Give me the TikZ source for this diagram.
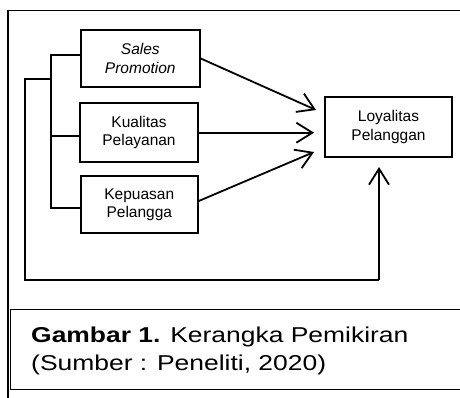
\documentclass[tikz,border=0pt]{standalone}
\usepackage{fontspec}
\setmainfont{Liberation Sans}
\usetikzlibrary{arrows.meta}
\begin{document}
\begin{tikzpicture}[x=1pt,y=-1pt,
  varbox/.style={draw, line width=1.9pt, inner sep=0pt, align=center,
    font=\fontsize{15.5}{18.3}\selectfont},
  link/.style={line width=1.8pt},
  arr/.style={line width=1.8pt, -{Straight Barb[length=16pt,width=20pt,line width=1.8pt]}},
  frameline/.style={line width=1.8pt},
  capline/.style={line width=1pt},
  captext/.style={anchor=base west, inner sep=0pt, font=\fontsize{21.5}{26}\selectfont}]
\useasboundingbox (0,0) rectangle (460,398);
% outer frame
\draw[frameline] (8,398) -- (8,10.5) -- (460,10.5);
% caption box
\draw[capline] (460,309) -- (10,309) -- (10,389) -- (460,389);
% boxes
\node[varbox, minimum width=119pt, minimum height=57pt] (sp) at (140.3,58.5) {\itshape Sales\\\itshape Promotion};
\node[varbox, minimum width=118pt, minimum height=59pt] (kp) at (139,132.5) {Kualitas\\Pelayanan};
\node[varbox, minimum width=117pt, minimum height=57pt] (ks) at (139.3,204.5) {Kepuasan\\Pelangga};
\node[varbox, minimum width=127pt, minimum height=60pt] (ly) at (388.5,127) {Loyalitas\\Pelanggan};
% bus coordinates
\coordinate (b1) at (51,55);
\coordinate (b2) at (51,136);
\coordinate (b3) at (51,208);
\coordinate (o1) at (25,79);
\coordinate (ob) at (25,280);
\coordinate (oc) at (379,280);
\coordinate (t1) at ([xshift=-8pt,yshift=17pt]ly.west);
\coordinate (t2) at ([xshift=-10pt,yshift=-5.7pt]ly.west);
\coordinate (t3) at ([xshift=-10pt,yshift=-25pt]ly.west);
\coordinate (t4) at (379,167);
% left buses
\draw[link] (sp.west |- b1) -- (b1) -- (b3) -- (ks.west |- b3);
\draw[link] (b2) -- (kp.west |- b2);
\draw[link] (b1 |- o1) -- (o1) -- (ob) -- (oc);
\draw[arr] (oc) -- (t4);
% arrows to Loyalitas
\draw[arr] (sp.east) -- (t1);
\draw[arr] (kp.east |- t2) -- (t2);
\draw[arr] ([yshift=3.5pt]ks.east) -- (t3);
% caption
\node[captext] (c1) at (31,342.7) {\scalebox{1.23}[1]{\textbf{Gambar 1.} Kerangka Pemikiran}};
\node[captext] (c2) at (31,370) {\scalebox{1.23}[1]{(Sumber : Peneliti, 2020)}};
\end{tikzpicture}
\end{document}
